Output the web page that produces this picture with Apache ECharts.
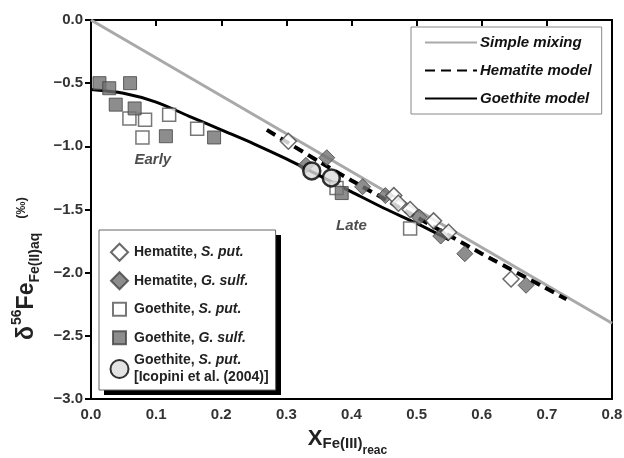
<!DOCTYPE html>
<html>
<head>
<meta charset="utf-8">
<script src="https://cdn.jsdelivr.net/npm/echarts@6/dist/echarts.min.js"></script>
<style>
  html, body { margin: 0; padding: 0; background: #fff; }
  #chart { width: 624px; height: 458px; }
</style>
</head>
<body>
<div id="chart"></div>
<script>
// Model curves: [X_Fe(III)reac, δ56Fe]
const simpleMixing = [[0, 0], [0.8, -2.4]];
const hematiteModel = [[0.27, -0.87], [0.35, -1.12], [0.4, -1.27], [0.5, -1.56], [0.6, -1.85], [0.73, -2.21]];
const goethiteModel = [[0, -0.55], [0.05, -0.58], [0.1, -0.65], [0.15, -0.76], [0.2, -0.87], [0.25, -0.98],
                       [0.3, -1.10], [0.35, -1.23], [0.4, -1.36], [0.45, -1.49], [0.5, -1.61], [0.55, -1.74]];

// Measured points
const hematiteSput = [[0.303, -0.96], [0.465, -1.39], [0.472, -1.45], [0.49, -1.50], [0.526, -1.59],
                      [0.549, -1.68], [0.645, -2.05]];
const hematiteGsulf = [[0.33, -1.15], [0.362, -1.09], [0.417, -1.32], [0.452, -1.39], [0.504, -1.56],
                       [0.537, -1.71], [0.574, -1.85], [0.668, -2.10]];
const goethiteSput = [[0.059, -0.78], [0.083, -0.79], [0.079, -0.93], [0.12, -0.75], [0.163, -0.86],
                      [0.377, -1.33], [0.49, -1.65]];
const goethiteGsulf = [[0.013, -0.50], [0.028, -0.54], [0.06, -0.50], [0.038, -0.67], [0.067, -0.70],
                       [0.115, -0.92], [0.189, -0.93], [0.385, -1.37]];
const icopini = [[0.339, -1.195], [0.369, -1.25]];

// Text annotations
const notes = [{ name: 'Early', value: [0.095, -1.11] }, { name: 'Late', value: [0.40, -1.63] }];

const xTickLabels = ['0.0', '0.1', '0.2', '0.3', '0.4', '0.5', '0.6', '0.7', '0.8'];
const yTickLabels = ['\u22123.0', '\u22122.5', '\u22122.0', '\u22121.5', '\u22121.0', '\u22120.5', '0.0'];

const FONT = 'Liberation Sans, Arial, Helvetica, sans-serif';
const INK = '#222';
const chart = echarts.init(document.getElementById('chart'), null, { renderer: 'canvas' });

const tickLabel = { color: '#333', fontFamily: FONT, fontWeight: 'bold', fontSize: 15 };
const txt = (size, extra) => Object.assign({ fontSize: size, fontFamily: FONT, fontWeight: 'bold', color: INK }, extra || {});

// Legend glyphs drawn inside a fixed 19 x 26.5 frame (the leading moveTo points set the frame),
// so every legend row has the same height while the glyph keeps its own size.
const FRAME = 'M0,0M19,26.5';
const ICON = {
  diamond: 'path://' + FRAME + 'M9.5,4.75L18,13.25L9.5,21.75L1,13.25Z',
  square: 'path://' + FRAME + 'M3,6.75L16,6.75L16,19.75L3,19.75Z',
  circle: 'path://' + FRAME + 'M18.5,13.25A9,9 0 1 1 0.5,13.25A9,9 0 1 1 18.5,13.25Z'
};

// Sample legend box (left, top, width, height) and its drop shadow
const SAMPLE_BOX = { left: 99, top: 230, width: 177, height: 160 };

const option = {
  animation: false,
  backgroundColor: '#fff',
  grid: {
    left: 91, right: 12, top: 20, bottom: 59,
    outerBoundsMode: 'none', containLabel: false,
    show: true, borderColor: '#000', borderWidth: 2
  },
  graphic: [{
    type: 'rect', z: 3, silent: true,
    shape: { x: SAMPLE_BOX.left + 5, y: SAMPLE_BOX.top + 5, width: SAMPLE_BOX.width, height: SAMPLE_BOX.height },
    style: { fill: '#000' }
  }],
  xAxis: {
    type: 'value', min: 0, max: 0.8, interval: 0.1,
    axisLine: { show: true, lineStyle: { color: '#000', width: 2 } },
    axisTick: { show: true, length: 6, lineStyle: { color: '#000', width: 2 } },
    splitLine: { show: false },
    axisLabel: Object.assign({ margin: 8, formatter: v => xTickLabels[Math.round(v * 10)] }, tickLabel),
    name: '{x|X}{s|Fe(III)}{ss|reac}',
    nameLocation: 'middle', nameGap: 22,
    nameTextStyle: {
      fontFamily: FONT, fontWeight: 'bold', color: INK, padding: [0, 8, 0, 0],
      rich: {
        x: txt(22, { lineHeight: 36, verticalAlign: 'middle' }),
        s: txt(15, { verticalAlign: 'bottom', padding: [0, 0, 6, 0] }),
        ss: txt(12, { verticalAlign: 'bottom' })
      }
    }
  },
  yAxis: {
    type: 'value', min: -3, max: 0, interval: 0.5,
    axisLine: { show: true, lineStyle: { color: '#000', width: 2 } },
    axisTick: { show: true, length: 6, lineStyle: { color: '#000', width: 2 } },
    splitLine: { show: false },
    axisLabel: Object.assign({ margin: 8, formatter: v => yTickLabels[Math.round((v + 3) * 2)] }, tickLabel),
    name: '{d|\u03b4}{p|56}{d|Fe}{s|Fe(II)aq}{q|(\u2030)}',
    nameLocation: 'middle', nameGap: 43, nameRotate: 90,
    nameTextStyle: {
      fontFamily: FONT, fontWeight: 'bold', color: INK,
      padding: [0, 118, 0, 0],
      rich: {
        d: txt(23, { lineHeight: 34, verticalAlign: 'middle' }),
        p: txt(14, { verticalAlign: 'top', padding: [1, 0, 0, 1] }),
        s: txt(14, { verticalAlign: 'bottom', padding: [0, 0, 1, 0] }),
        q: txt(13, { verticalAlign: 'top', padding: [5, 0, 0, 14] })
      }
    }
  },
  legend: [
    {
      data: ['Simple mixing', 'Hematite model', 'Goethite model'],
      orient: 'vertical', left: 411, top: 27,
      itemWidth: 52, itemHeight: 14, itemGap: 13,
      padding: [8, 10, 8, 13],
      itemStyle: { opacity: 0 },
      backgroundColor: '#fff', borderColor: '#888', borderWidth: 1,
      textStyle: { fontFamily: FONT, fontWeight: 'bold', fontStyle: 'italic', fontSize: 15, color: '#111', padding: [0, 0, 0, -2] }
    },
    {
      data: [
        { name: 'Hematite, S. put.', icon: ICON.diamond },
        { name: 'Hematite, G. sulf.', icon: ICON.diamond },
        { name: 'Goethite, S. put.', icon: ICON.square },
        { name: 'Goethite, G. sulf.', icon: ICON.square },
        { name: 'Icopini', icon: ICON.circle }
      ],
      orient: 'vertical', left: SAMPLE_BOX.left, top: SAMPLE_BOX.top, z: 4,
      itemWidth: 19, itemHeight: 26.5, itemGap: 0, symbolKeepAspect: true,
      padding: [8, 7, 4, 10],
      backgroundColor: '#fff', borderColor: '#666', borderWidth: 1,
      formatter: function (name) {
        if (name === 'Icopini') return 'Goethite, {i|S. put.}\n[Icopini et al. (2004)]';
        const parts = name.split(', ');
        return parts[0] + ', {i|' + parts[1] + '}';
      },
      textStyle: {
        fontFamily: FONT, fontWeight: 'bold', fontSize: 14, color: INK, lineHeight: 17,
        rich: { i: txt(14, { lineHeight: 17, fontStyle: 'italic' }) }
      }
    }
  ],
  series: [
    {
      name: 'Simple mixing', type: 'line', data: simpleMixing, showSymbol: false, symbol: 'none', z: 2,
      lineStyle: { color: '#a9a9a9', width: 3 }, itemStyle: { color: '#a9a9a9' }
    },
    {
      name: 'Hematite model', type: 'line', data: hematiteModel, showSymbol: false, symbol: 'none', smooth: 0.2, z: 2,
      lineStyle: { color: '#000', width: 4, type: [10, 6] }, itemStyle: { color: '#000' }
    },
    {
      name: 'Goethite model', type: 'line', data: goethiteModel, showSymbol: false, symbol: 'none', smooth: 0.3, z: 2,
      lineStyle: { color: '#000', width: 3 }, itemStyle: { color: '#000' }
    },
    {
      name: 'Goethite, S. put.', type: 'scatter', data: goethiteSput, symbol: 'rect', symbolSize: 13, z: 3,
      itemStyle: { color: '#fff', borderColor: '#555', borderWidth: 1.5 }
    },
    {
      name: 'Goethite, G. sulf.', type: 'scatter', data: goethiteGsulf, symbol: 'rect', symbolSize: 13, z: 3,
      itemStyle: { color: '#707070', borderColor: '#444', borderWidth: 1 }
    },
    {
      name: 'Hematite, G. sulf.', type: 'scatter', data: hematiteGsulf, symbol: 'diamond', symbolSize: 16, z: 3,
      itemStyle: { color: '#707070', borderColor: '#444', borderWidth: 1 }
    },
    {
      name: 'Hematite, S. put.', type: 'scatter', data: hematiteSput, symbol: 'diamond', symbolSize: 16, z: 3,
      itemStyle: { color: '#fff', borderColor: '#444', borderWidth: 1.5 }
    },
    {
      name: 'Icopini', type: 'scatter', data: icopini, symbol: 'circle', symbolSize: 17, z: 4,
      itemStyle: { color: '#dcdcdc', borderColor: '#000', borderWidth: 2.5 }
    },
    {
      name: 'notes', type: 'scatter', data: notes, symbolSize: 0, z: 5, silent: true,
      label: {
        show: true, position: 'inside', formatter: p => p.name,
        fontFamily: FONT, fontWeight: 'bold', fontStyle: 'italic', fontSize: 15, color: INK
      }
    }
  ]
};

chart.setOption(option);
</script>
</body>
</html>
